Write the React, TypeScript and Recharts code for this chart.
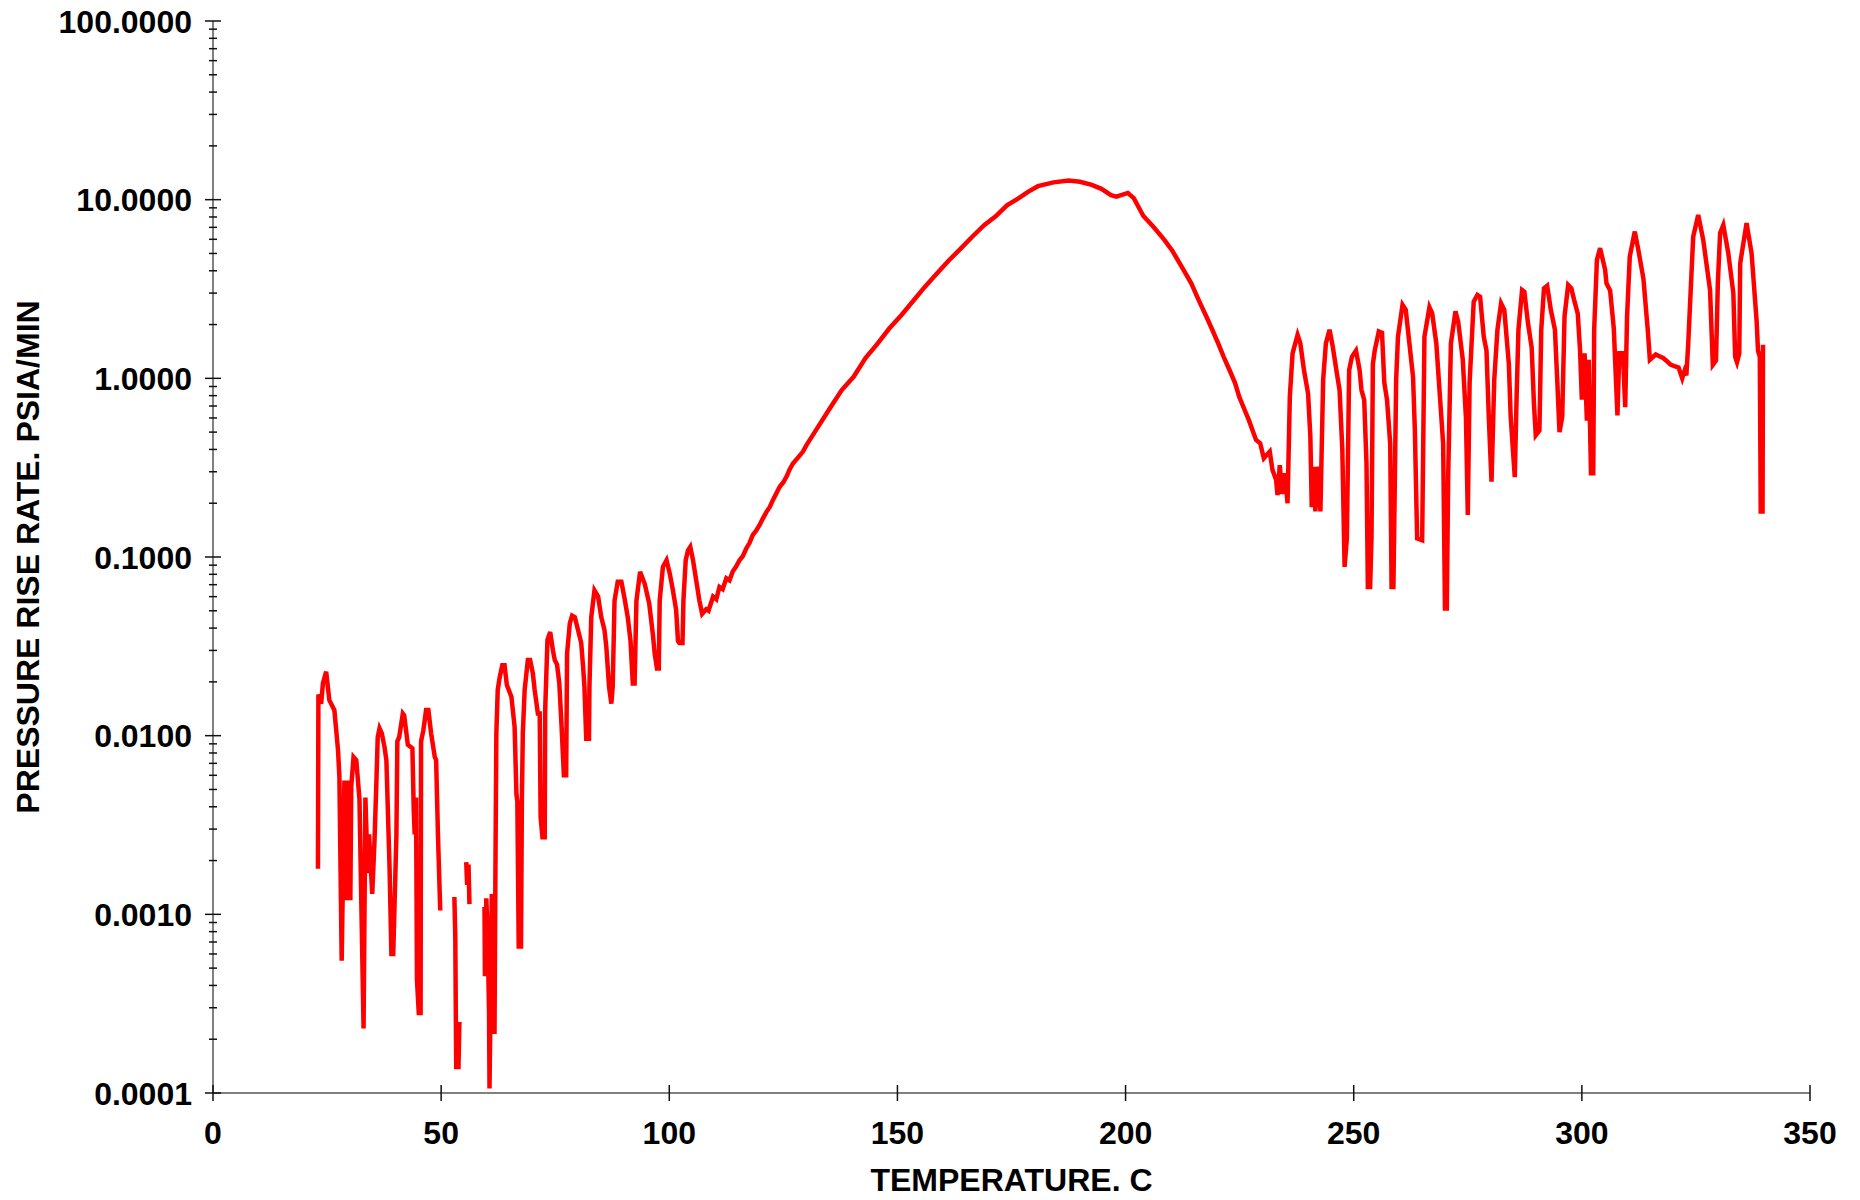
import { Label, Line, LineChart, XAxis, YAxis } from 'recharts'

// temperature, C
const TEMPS = [
	23.0, 23.1, 23.7, 24.1, 24.8, 25.5, 26.6, 27.4, 27.7, 28.2, 28.8, 29.2, 29.6, 30.1, 30.3, 30.8, 31.4, 32.1,
	33.0, 33.4, 33.9, 34.2, 34.9, 35.4, 35.8, 36.1, 36.5, 37.0, 37.6, 38.0, 38.7, 39.1, 39.5, 40.2, 40.4, 40.8,
	41.6, 41.9, 42.7, 43.7, 44.0, 44.2, 44.5, 44.7, 45.1, 45.5, 45.6, 46.1, 46.7, 47.2, 47.8, 48.6, 48.9, 49.3,
	49.8, 51.0, 52.9, 53.1, 53.3, 53.8, 54.0, 54.8, 55.5, 55.7, 56.0, 56.2, 58.0, 59.5, 59.6, 59.9, 60.2, 60.5,
	60.6, 60.8, 61.1, 61.3, 61.7, 61.9, 62.1, 62.4, 62.8, 63.4, 63.9, 64.4, 65.4, 66.1, 66.5, 66.7, 67.0, 67.5,
	67.7, 67.9, 68.3, 69.0, 69.5, 70.1, 70.5, 71.2, 71.6, 71.8, 72.2, 72.7, 72.8, 73.3, 73.9, 74.5, 74.9, 75.4,
	75.9, 76.4, 76.9, 77.4, 77.6, 78.2, 78.7, 79.3, 80.0, 80.7, 81.1, 81.4, 81.8, 82.4, 82.5, 82.9, 83.6, 84.4,
	85.1, 85.8, 86.2, 86.8, 87.3, 87.6, 88.0, 88.7, 89.5, 90.2, 90.9, 91.5, 92.0, 92.4, 92.8, 93.6, 94.6, 95.6,
	96.4, 96.8, 97.3, 97.7, 97.9, 98.6, 99.4, 100.1, 100.8, 101.5, 101.9, 102.2, 102.9, 103.1, 103.6, 104.1,
	104.6, 105.2, 105.9, 106.6, 107.2, 108.1, 108.6, 109.6, 110.3, 111.0, 111.7, 112.5, 113.2, 113.9, 114.6,
	115.4, 116.1, 116.9, 117.6, 118.3, 119.0, 119.8, 120.5, 121.3, 122.0, 122.7, 123.5, 124.2, 125.0, 125.7,
	126.4, 127.1, 128.2, 129.3, 130.0, 132.5, 135.2, 137.8, 140.4, 143.0, 145.6, 148.2, 150.8, 153.4, 156.0,
	158.6, 161.2, 163.8, 166.4, 169.0, 171.6, 174.0, 176.6, 178.7, 180.8, 184.2, 187.5, 190.0, 192.6, 194.7,
	196.8, 198.0, 200.5, 201.8, 203.9, 206.0, 208.5, 210.2, 212.7, 214.4, 216.0, 217.7, 219.0, 220.3, 221.5,
	222.8, 224.0, 224.9, 226.1, 227.0, 227.8, 228.6, 229.5, 230.3, 231.6, 232.2, 233.0, 233.3, 233.8, 234.3,
	234.9, 235.5, 236.0, 236.6, 237.7, 238.3, 239.1, 240.0, 240.5, 240.8, 241.2, 241.6, 242.2, 242.7, 243.3,
	243.9, 244.7, 245.4, 246.3, 246.9, 247.5, 248.0, 248.5, 249.0, 249.6, 250.5, 251.3, 251.7, 252.3, 252.8,
	253.1, 253.6, 253.9, 254.2, 254.6, 255.5, 256.2, 256.7, 257.3, 258.0, 258.3, 258.7, 258.9, 259.3, 259.7,
	260.7, 261.4, 262.2, 263.0, 263.4, 263.9, 265.0, 265.5, 266.6, 267.2, 268.1, 268.9, 269.6, 270.0, 270.4,
	270.7, 271.3, 272.3, 272.9, 273.9, 274.6, 275.0, 275.4, 276.3, 277.1, 277.7, 278.5, 279.1, 279.6, 280.2,
	280.8, 281.5, 282.3, 283.0, 284.0, 284.4, 285.3, 285.7, 286.1, 286.9, 287.4, 288.2, 289.0, 289.5, 289.9,
	290.7, 291.1, 291.7, 292.4, 293.2, 294.1, 294.7, 295.1, 295.7, 296.2, 297.0, 297.7, 298.3, 299.1, 299.6,
	300.0, 300.6, 301.1, 301.5, 302.0, 302.5, 302.7, 303.3, 304.0, 305.1, 305.4, 306.2, 307.0, 307.5, 307.8,
	308.2, 309.0, 309.5, 309.9, 310.5, 311.6, 312.4, 313.5, 314.5, 314.9, 316.2, 317.0, 317.8, 318.6, 319.5,
	320.3, 321.2, 322.0, 322.5, 322.9, 323.3, 324.4, 325.5, 326.6, 328.1, 328.7, 329.4, 329.8, 330.3, 331.0,
	332.1, 333.2, 333.6, 334.0, 334.5, 334.7, 336.1, 337.2, 338.3, 338.6, 339.0, 339.2, 339.6, 339.7,
]

// pressure rise rate, psia/min (null = no reading)
const RATES: (number | null)[] = [
	0.0018, 0.017, 0.0151, 0.0197, 0.0228, 0.0158, 0.0139, 0.0083, 0.0059, 0.00055, 0.0056, 0.0012, 0.0056, 0.0012,
	0.0052, 0.0076, 0.0073, 0.0044, 0.00023, 0.0045, 0.0017, 0.0028, 0.0013, 0.0026, 0.0054, 0.0098, 0.011, 0.0103,
	0.0086, 0.0073, 0.0018, 0.0006, 0.0006, 0.0028, 0.0093, 0.0098, 0.0133, 0.013, 0.0089, 0.0085, 0.0038, 0.0028,
	0.0045, 0.00043, 0.00028, 0.00028, 0.0093, 0.0107, 0.0139, 0.0139, 0.0103, 0.0076, 0.0073, 0.0028, 0.00105, null,
	0.00125, 0.00075, 0.00014, 0.00014, 0.00025, null, 0.00196, 0.00146, 0.0019, 0.00114, null, 0.0011, 0.00045,
	0.00123, 0.00075, 0.00028, 0.000106, 0.00028, 0.0013, 0.00022, 0.00022, 0.0018, 0.0103, 0.018, 0.021, 0.0248,
	0.0248, 0.0192, 0.0165, 0.0112, 0.0047, 0.0043, 0.00066, 0.00066, 0.0045, 0.0103, 0.018, 0.0265, 0.0265, 0.0223,
	0.018, 0.0133, 0.0133, 0.0035, 0.0027, 0.0027, 0.0139, 0.0343, 0.038, 0.03, 0.0265, 0.025, 0.0196, 0.0112, 0.006,
	0.006, 0.0288, 0.0425, 0.047, 0.046, 0.039, 0.033, 0.0245, 0.0188, 0.0096, 0.0096, 0.0188, 0.046, 0.065, 0.06,
	0.046, 0.039, 0.0314, 0.0188, 0.0151, 0.0188, 0.057, 0.0726, 0.0726, 0.0586, 0.046, 0.034, 0.0196, 0.0196, 0.057,
	0.0826, 0.071, 0.055, 0.037, 0.0288, 0.0238, 0.0238, 0.057, 0.088, 0.096, 0.081, 0.065, 0.0505, 0.034, 0.033,
	0.033, 0.057, 0.096, 0.109, 0.114, 0.096, 0.074, 0.057, 0.048, 0.051, 0.05, 0.06, 0.058, 0.068, 0.066, 0.076,
	0.074, 0.083, 0.088, 0.096, 0.101, 0.112, 0.12, 0.133, 0.14, 0.151, 0.164, 0.179, 0.19, 0.208, 0.228, 0.247,
	0.262, 0.282, 0.31, 0.334, 0.36, 0.389, 0.42, 0.53, 0.68, 0.86, 1.02, 1.3, 1.56, 1.9, 2.25, 2.7, 3.25, 3.85, 4.55,
	5.3, 6.2, 7.2, 8.1, 9.3, 10.2, 11.1, 11.9, 12.5, 12.8, 12.6, 12.1, 11.5, 10.6, 10.4, 10.9, 10.2, 8.1, 7.1, 5.96,
	5.2, 4.05, 3.4, 2.75, 2.22, 1.87, 1.57, 1.32, 1.11, 0.94, 0.79, 0.665, 0.585, 0.514, 0.452, 0.433, 0.357, 0.389,
	0.307, 0.27, 0.222, 0.327, 0.225, 0.294, 0.2, 0.79, 1.38, 1.75, 1.57, 1.11, 0.82, 0.47, 0.19, 0.32, 0.18, 0.32,
	0.18, 0.98, 1.57, 1.87, 1.51, 1.07, 0.86, 0.4, 0.088, 0.127, 1.11, 1.32, 1.43, 1.11, 0.86, 0.757, 0.334, 0.068,
	0.068, 0.13, 1.2, 1.43, 1.83, 1.8, 0.95, 0.757, 0.43, 0.068, 0.068, 0.161, 0.98, 1.71, 2.58, 2.42, 1.57, 1.02,
	0.514, 0.127, 0.124, 1.71, 2.5, 2.31, 1.57, 0.79, 0.43, 0.0515, 0.0515, 0.28, 1.57, 2.37, 2.07, 1.27, 0.6, 0.172,
	0.95, 2.69, 2.93, 2.86, 1.71, 1.43, 0.61, 0.264, 0.98, 1.87, 2.63, 2.42, 1.2, 0.61, 0.28, 0.79, 1.87, 3.12, 3.05,
	2.03, 1.49, 0.72, 0.48, 0.51, 1.87, 3.19, 3.3, 2.42, 1.87, 0.86, 0.5, 0.61, 2.22, 3.33, 3.19, 2.75, 2.3, 1.44,
	0.76, 1.38, 0.58, 1.27, 0.294, 0.294, 1.87, 4.6, 5.35, 4.05, 3.4, 3.1, 1.9, 0.94, 0.62, 1.38, 1.38, 0.69, 2.2,
	4.8, 6.63, 5.2, 3.6, 1.79, 1.27, 1.36, 1.33, 1.3, 1.25, 1.19, 1.17, 1.15, 1.0, 1.1, 1.04, 1.54, 6.2, 8.2, 5.96,
	3.1, 1.19, 1.26, 3.4, 6.5, 7.2, 5.0, 3.0, 1.32, 1.23, 1.38, 4.4, 7.4, 5.0, 2.1, 1.43, 1.32, 0.18, 0.18, 1.54,
]

const TEMP_TICKS = [0, 50, 100, 150, 200, 250, 300, 350]
const RATE_DECADES = [0.0001, 0.001, 0.01, 0.1, 1, 10, 100]

const data = TEMPS.map((t, i) => ({ temp: t, rate: RATES[i] }))

// minor ticks 2..9 inside each decade
const rateTicks: number[] = []
RATE_DECADES.forEach((d, i) => {
	rateTicks.push(d)
	if (i < RATE_DECADES.length - 1) {
		for (let k = 2; k <= 9; k++) rateTicks.push(Number((d * k).toPrecision(3)))
	}
})

const FONT = '"Liberation Sans", Arial, sans-serif'
const isDecade = (v: number) => RATE_DECADES.some((d) => Math.abs(d - v) / d < 1e-6)

const YTick = (props: any) => {
	const { x, y, payload } = props
	const major = isDecade(payload.value)
	const half = major ? 8 : 4
	return (
		<g>
			<line x1={x - half} x2={x + half} y1={y} y2={y} stroke="#111" strokeWidth={1.5} />
			{major && (
				<text
					x={x - 21}
					y={y}
					dy="0.36em"
					textAnchor="end"
					fontFamily={FONT}
					fontWeight="bold"
					fontSize={32}
					fill="#000"
				>
					{payload.value.toFixed(4)}
				</text>
			)}
		</g>
	)
}

const XTick = (props: any) => {
	const { x, y, payload } = props
	return (
		<g>
			<line x1={x} x2={x} y1={y - 8} y2={y + 8} stroke="#111" strokeWidth={1.5} />
			<text
				x={x}
				y={y + 51}
				textAnchor="middle"
				fontFamily={FONT}
				fontWeight="bold"
				fontSize={32}
				fill="#000"
			>
				{payload.value}
			</text>
		</g>
	)
}

export default function App() {
	return (
		<div style={{ width: 1860, height: 1200, background: '#fff' }}>
			<style>{'body{margin:0}'}</style>
			<LineChart
				width={1860}
				height={1200}
				data={data}
				margin={{ top: 21, right: 50, bottom: 0, left: 0 }}
			>
				<XAxis
					dataKey="temp"
					type="number"
					domain={[0, 350]}
					ticks={TEMP_TICKS}
					interval={0}
					height={107}
					tickSize={0}
					tickMargin={0}
					tickLine={false}
					tick={<XTick />}
					axisLine={{ stroke: '#808080', strokeWidth: 2 }}
				>
					<Label
						content={(p: any) => {
							const vb = p.viewBox
							return (
								<text
									x={vb.x + vb.width / 2}
									y={vb.y + 98}
									textAnchor="middle"
									fontFamily={FONT}
									fontWeight="bold"
									fontSize={32}
									fill="#000"
								>
									TEMPERATURE. C
								</text>
							)
						}}
					/>
				</XAxis>
				<YAxis
					type="number"
					scale="log"
					domain={[0.0001, 100]}
					allowDataOverflow
					ticks={rateTicks}
					interval={0}
					width={213}
					tickSize={0}
					tickMargin={0}
					tickLine={false}
					tick={<YTick />}
					axisLine={{ stroke: '#808080', strokeWidth: 2 }}
				>
					<Label
						content={(p: any) => {
							const vb = p.viewBox
							const cy = vb.y + vb.height / 2
							return (
								<text
									x={39}
									y={cy}
									transform={`rotate(-90 39 ${cy})`}
									textAnchor="middle"
									fontFamily={FONT}
									fontWeight="bold"
									fontSize={32}
									fill="#000"
								>
									PRESSURE RISE RATE. PSIA/MIN
								</text>
							)
						}}
					/>
				</YAxis>
				<Line
					type="linear"
					dataKey="rate"
					stroke="#ff0000"
					strokeWidth={4.5}
					dot={false}
					connectNulls={false}
					isAnimationActive={false}
				/>
			</LineChart>
		</div>
	)
}
